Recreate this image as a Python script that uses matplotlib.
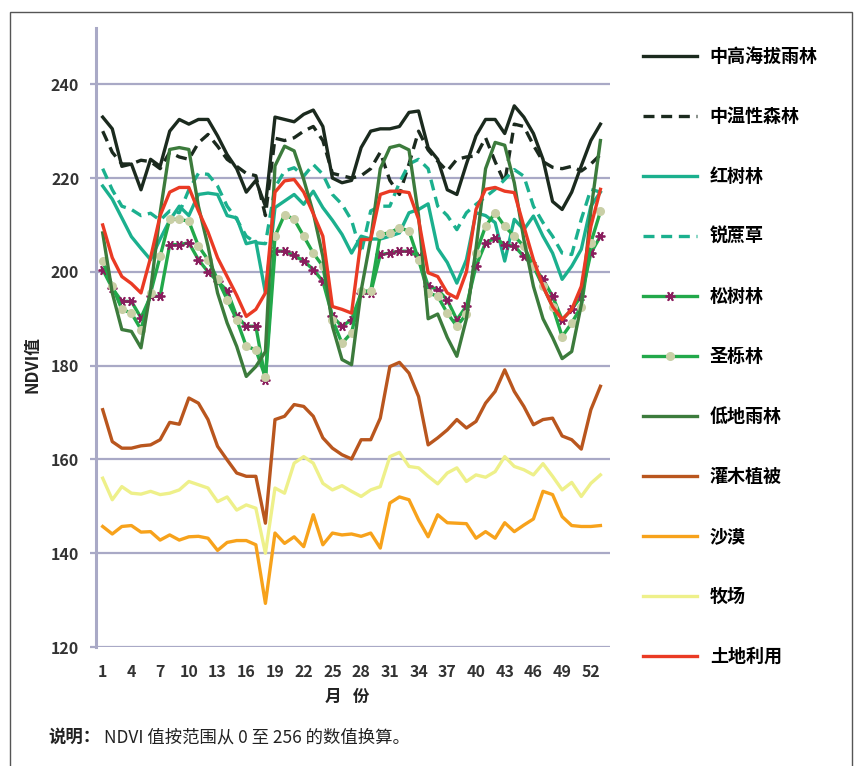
import matplotlib
matplotlib.use("Agg")
import matplotlib.pyplot as plt
from matplotlib.patches import Rectangle

plt.rcParams['font.family'] = ['Noto Sans CJK SC', 'DejaVu Sans']

# weeks 1..53
weeks = list(range(1, 54))
tick_weeks = list(range(1, 53, 3))

# NDVI values
high_rainforest = [233, 230.5, 222.5, 223, 217.5, 224, 222.5, 230, 232.5, 231.5, 232.5, 232.5, 229, 225, 222, 217, 219.5, 214,
                   233, 232.5, 232, 233.6, 234.5, 231, 220, 219, 219.5, 226.5, 230, 230.5, 230.5, 231, 234, 234.3, 226.5, 224,
                   217.5, 216.5, 223, 229, 232.5, 232.5, 229.5, 235.4, 233, 229.5, 224, 215, 213.3, 217, 222.6, 228, 231.5]
temperate_forest = [230, 225.5, 223, 223, 223.8, 223.5, 222, 225.5, 224.5, 224, 227.5, 229.3, 226.8, 224, 222.5, 221, 220.5, 212,
                    228.5, 228, 228.6, 230, 231, 228, 221, 220.5, 220, 220.5, 222, 225.5, 219.5, 216.5, 223, 230, 226, 223.6,
                    221.5, 224, 224.5, 224.7, 228.6, 223.5, 219, 231.5, 231, 227, 223.5, 222.3, 222, 222.5, 221.5, 223, 225]
mangrove = [218.3, 215.5, 211.5, 207.5, 205, 202.6, 207, 211, 214, 212, 216.5, 216.8, 216.5, 212, 211.5, 206, 206.5, 195.5,
            213.7, 215.1, 216.5, 214.4, 217.2, 213.7, 211, 208, 204, 207.6, 207, 207, 207.6, 208.3, 212.6, 213.3, 214.5, 205,
            202, 197.6, 202.6, 212.6, 212, 210.5, 202.3, 211.2, 209, 211.9, 207.6, 204, 198.4, 201.2, 204.8, 214, 217]
sawgrass = [222, 217.5, 214, 213.3, 212, 212.5, 211, 213, 212.6, 217.5, 221, 220.8, 218.3, 214, 211.2, 207.6, 206.2, 206,
            218, 221.5, 222.2, 220.4, 222.9, 220.8, 216.5, 214.4, 211, 204, 213, 214, 214, 219, 223, 224, 222, 214,
            212, 209, 212.6, 214.4, 216, 217.6, 219.7, 221.8, 220.4, 214, 210.5, 207.6, 204, 203.7, 211.2, 217.6, 217]
pine = [200.5, 196.5, 193.7, 193.7, 190.2, 194.8, 194.8, 205.8, 205.8, 206.2, 202.6, 200, 198, 196, 190.5, 188.4, 188.4, 177,
        204.5, 204.4, 203.5, 202.3, 200.5, 198, 190.5, 188.4, 189.8, 195.5, 195.5, 203.7, 204, 204.4, 204.4, 203.3, 197, 196.2,
        194, 189.8, 192.7, 201.2, 206.2, 207.2, 205.8, 205.5, 203.3, 201.2, 198.4, 194.8, 189.8, 192, 194.8, 204, 207.6]
holm_oak = [202.3, 197, 192, 191.2, 187.7, 195.5, 203.3, 211.2, 211.2, 210.8, 205.5, 202.6, 198.4, 194.1, 189.8, 184.1, 183.4, 177.5,
            207.6, 212.2, 211.2, 207.6, 204, 201.2, 189.8, 184.8, 187, 195.9, 195.9, 208, 208.3, 209.4, 208.7, 202.6, 195.5, 194.8,
            191.2, 188.4, 191, 204, 209.7, 212.6, 209.7, 207.6, 205.5, 201.2, 196.9, 192.6, 186.2, 189.1, 192.6, 206.2, 212.9]
low_rainforest = [208.3, 195.5, 187.7, 187.3, 183.8, 196, 212.6, 226.1, 226.5, 226.1, 214, 205.5, 195.5, 189.1, 184.1, 177.7, 179.8, 183,
                  222.6, 226.8, 225.8, 219.7, 212.6, 203.3, 188.4, 181.3, 180.2, 196, 207, 222, 226.5, 227, 226, 212, 190, 191,
                  186, 182, 190, 205, 222, 227.6, 227, 219, 206.9, 196.9, 190, 186, 181.5, 183, 193, 213, 228]
shrub = [170.6, 163.8, 162.4, 162.4, 162.9, 163.1, 164.2, 167.9, 167.5, 173.1, 172, 168.5, 162.8, 159.9, 157.1, 156.4, 156.4, 146.4,
         168.5, 169.2, 171.7, 171.3, 169.2, 164.6, 162.4, 161, 160.1, 164.2, 164.2, 168.8, 179.8, 180.7, 178.4, 173.4, 163.1, 164.6,
         166.3, 168.5, 166.7, 168.1, 172, 174.5, 179.1, 174.5, 171.3, 167.4, 168.5, 168.8, 165, 164.2, 162.2, 170.6, 175.6]
desert = [145.7, 144.1, 145.7, 145.9, 144.5, 144.6, 142.8, 143.9, 142.8, 143.5, 143.6, 143.2, 140.6, 142.3, 142.7, 142.7, 141.8, 129.3,
          144.3, 142.1, 143.5, 141.4, 148.2, 141.8, 144.3, 143.9, 144.1, 143.6, 144.3, 141.1, 150.7, 152, 151.4, 147.1, 143.5, 148.2,
          146.5, 146.4, 146.3, 143.2, 144.6, 143.2, 146.5, 144.6, 146, 147.3, 153.2, 152.5, 147.8, 145.9, 145.7, 145.7, 145.9]
pasture = [156, 151.4, 154.2, 152.8, 152.6, 153.2, 152.5, 152.8, 153.5, 155.3, 154.6, 153.9, 151, 152, 149.2, 150.3, 149.6, 140,
           153.9, 152.8, 159.2, 160.6, 159.2, 154.9, 153.5, 154.4, 153.2, 152.1, 153.5, 154.2, 160.6, 161.5, 158.5, 158.2, 156.4, 154.8,
           157.1, 158.2, 155.3, 156.7, 156.2, 157.4, 160.6, 158.5, 157.8, 156.7, 159.1, 156.4, 153.5, 155.1, 152.1, 154.9, 156.7]
land_use = [210, 203, 199, 197.5, 195.5, 203, 212, 217, 218, 218, 213, 208.5, 203, 199, 195, 190.5, 192, 195.5,
            217, 219.4, 219.7, 217, 212.4, 207.6, 192.6, 192, 191.2, 206.9, 206.9, 216.5, 217.2, 217.2, 216.9, 211.2, 199.8, 199,
            195.5, 194.4, 200, 213.3, 217.6, 218, 217.2, 216.9, 209.7, 202.6, 196.9, 192.6, 189.8, 192, 196.9, 209.7, 217.6]

dark = "#1b2a1e"
teal = "#1bb08e"
green = "#22a84a"
grid_col = "#a9a9c6"

fig = plt.figure(figsize=(8.6, 7.66), dpi=100)
ax = fig.add_axes([96 / 860, 1 - 647 / 766, (610 - 96) / 860, (647 - 28) / 766])

lw = 2.4
dash = (3.3, 2.0)
ax.plot(weeks, high_rainforest, color=dark, lw=lw, label="中高海拔雨林")
ax.plot(weeks, temperate_forest, color=dark, lw=lw, dashes=dash, label="中温性森林")
ax.plot(weeks, mangrove, color=teal, lw=lw, label="红树林")
ax.plot(weeks, sawgrass, color=teal, lw=lw, dashes=dash, label="锐蔗草")
ax.plot(weeks, pine, color=green, lw=lw, marker=(6, 2, 90), ms=7, mec="#8a1e5e", mew=1.3, label="松树林")
ax.plot(weeks, holm_oak, color=green, lw=lw, marker="o", ms=5.5, mfc="#c9cfa6", mec="#c9cfa6", label="圣栎林")
ax.plot(weeks, low_rainforest, color="#3c7b3c", lw=lw, label="低地雨林")
ax.plot(weeks, shrub, color="#b9561e", lw=lw, label="灌木植被")
ax.plot(weeks, desert, color="#f7a21b", lw=lw, label="沙漠")
ax.plot(weeks, pasture, color="#eef08a", lw=lw, label="牧场")
ax.plot(weeks, land_use, color="#ea3a24", lw=lw, label="土地利用")

ax.set_xlim(0.3, 54)
ax.set_ylim(120, 252)
ax.set_yticks(range(120, 241, 20))
ax.set_xticks(tick_weeks)
ax.yaxis.grid(True, color=grid_col, lw=1.6)
ax.set_axisbelow(True)
for s in ["top", "right", "bottom"]:
    ax.spines[s].set_visible(False)
ax.spines["left"].set_color(grid_col)
ax.spines["left"].set_linewidth(2.2)
ax.tick_params(axis="y", length=4, color=grid_col, width=1.6, pad=8, labelsize=11.5, labelcolor="#333333")
ax.tick_params(axis="x", length=0, pad=12, labelsize=11.5, labelcolor="#333333")
for t in ax.get_xticklabels() + ax.get_yticklabels():
    t.set_fontweight("bold")

fig.text(32 / 860, 1 - 365 / 766, "NDVI值", rotation=90, ha="center", va="center",
         fontsize=12, fontweight="bold", color="#222222")
fig.text(347 / 860, 1 - 697 / 766, "月   份", ha="center", va="center",
         fontsize=12, fontweight="bold", color="#222222")
fig.text(48 / 860, 1 - 737 / 766, "说明：", ha="left", va="center",
         fontsize=12.5, fontweight="bold", color="#222222")
fig.text(104 / 860, 1 - 737 / 766, "NDVI 值按范围从 0 至 256 的数值换算。", ha="left", va="center",
         fontsize=12.5, color="#222222")

ax.legend(loc="upper left", bbox_to_anchor=(643 / 860, 1 - 47 / 766), bbox_transform=fig.transFigure,
          frameon=False, borderpad=0, borderaxespad=0, handlelength=3.0, handletextpad=0.7,
          labelspacing=2.27, prop={"weight": "bold", "size": 13})

# outer frame
fig.patches.append(Rectangle((10 / 860, -0.05), 842 / 860, 1.05 - 12 / 766, transform=fig.transFigure,
                             fill=False, ec="#555555", lw=1.0))

fig.savefig("out.png", dpi=100)
